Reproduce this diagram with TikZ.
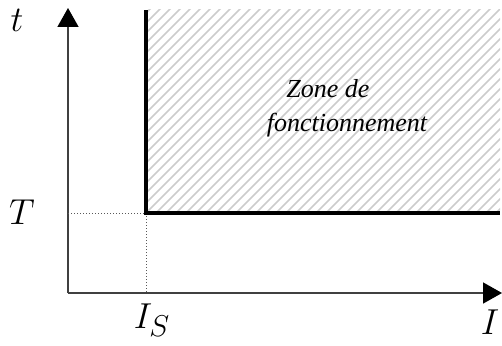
\documentclass[tikz,border=0pt]{standalone}
\usepackage{fontspec}
\newfontfamily\zonefont{Liberation Serif}
\usetikzlibrary{arrows.meta}
\begin{document}
\begin{tikzpicture}[x=1pt,y=-1pt,
	axis/.style={line width=1.6pt,draw=black!75,-{Triangle[length=19pt,width=21pt,color=black]}},
	hatch/.style={line width=1.5pt,draw=black!20},
	guide/.style={dotted,line width=1pt,draw=black!65},
	label/.style={inner sep=0pt,font=\Huge,scale=1.45},
	zonetext/.style={inner sep=0pt,font=\zonefont\itshape\fontsize{26}{30}\selectfont}]
	\useasboundingbox (0,0) rectangle (502,345);
	\coordinate (O) at (68,293);
	\coordinate (ytop) at (68,8);
	\coordinate (xend) at (502,293);
	\coordinate (C) at (146,213);
	\coordinate (top) at (146,10);
	\coordinate (right) at (500,213);
	% zone hachuree
	\begin{scope}
		\clip (C) rectangle (500,10);
		\foreach \k in {-220,-210,...,360} \draw[hatch] (146+\k,213) -- ++(210,-210);
	\end{scope}
	% axes
	\draw[axis] (O) -- (ytop);
	\draw[axis] (O) -- (xend);
	\draw[guide] (O |- C) -- (C) -- (O -| C);
	\draw[line width=4pt] (top) |- (right);
	% textes
	\node[inner sep=0pt,font=\Huge,scale=1.45] (tlab) at (17,20) {$t$};
	\node[label] (Tlab) at (22,212) {$T$};
	\node[label] (Islab) at (152,320) {$I_S$};
	\node[label] (Ilab) at (490,322) {$I$};
	\node[zonetext,anchor=base] (zone1) at (328,97) {Zone de};
	\node[zonetext,anchor=base] (zone2) at (347,131) {fonctionnement};
\end{tikzpicture}
\end{document}
